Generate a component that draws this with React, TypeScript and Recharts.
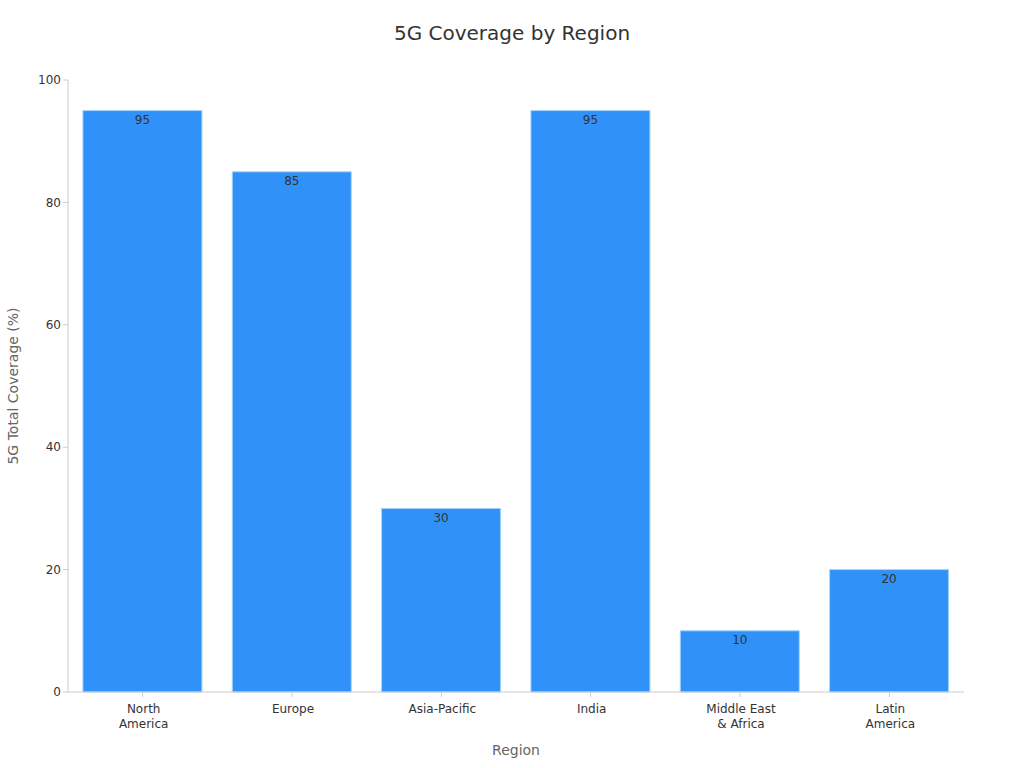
import { BarChart, Bar, XAxis, YAxis, LabelList } from "recharts";

const regions = ["North\nAmerica", "Europe", "Asia-Pacific", "India", "Middle East\n& Africa", "Latin\nAmerica"];
const coverage = [95, 85, 30, 95, 10, 20];
const yTicks = [0, 20, 40, 60, 80, 100];

const data = regions.map((region, i) => ({ region, coverage: coverage[i] }));

const FONT = "'DejaVu Sans', sans-serif";

const RegionTick = (props: any) => {
  const { x, y, payload } = props;
  const lines = String(payload.value).split("\n");
  return (
    <text x={x + 1} y={y} textAnchor="middle" fill="#333" fontSize={12} fontFamily={FONT}>
      {lines.map((line, i) => (
        <tspan key={i} x={x + 1} dy={i === 0 ? 13.5 : 15.5}>
          {line}
        </tspan>
      ))}
    </text>
  );
};

export default function App() {
  return (
    <div style={{ position: "absolute", left: 0, top: 0, width: 1024, height: 768, background: "#fff", fontFamily: FONT }}>
      <div
        style={{
          position: "absolute",
          top: 20,
          left: 0,
          width: 1024,
          textAlign: "center",
          fontSize: 20,
          color: "#333",
          lineHeight: "26px",
        }}
      >
        5G Coverage by Region
      </div>
      <BarChart
        width={1024}
        height={768}
        data={data}
        margin={{ top: 80, right: 60, bottom: 0, left: 0 }}
        barCategoryGap="10%"
      >
        <XAxis
          dataKey="region"
          height={76}
          interval={0}
          tick={<RegionTick />}
          tickSize={5}
          stroke="#ccc"
          label={{ value: "Region", position: "insideBottom", offset: 13, fill: "#666", fontSize: 14, fontFamily: FONT }}
        />
        <YAxis
          width={68}
          domain={[0, 100]}
          ticks={yTicks}
          tickSize={5}
          stroke="#ccc"
          tick={{ fill: "#333", fontSize: 12, fontFamily: FONT }}
          label={{
            value: "5G Total Coverage (%)",
            angle: -90,
            position: "insideLeft",
            offset: 13,
            fill: "#666",
            fontSize: 14,
            fontFamily: FONT,
            style: { textAnchor: "middle" },
          }}
        />
        <Bar dataKey="coverage" fill="#3092f8" stroke="#a6d2ff" strokeWidth={1} isAnimationActive={false}>
          <LabelList dataKey="coverage" position="insideTop" offset={5} fill="#333" fontSize={12} fontFamily={FONT} />
        </Bar>
      </BarChart>
    </div>
  );
}
